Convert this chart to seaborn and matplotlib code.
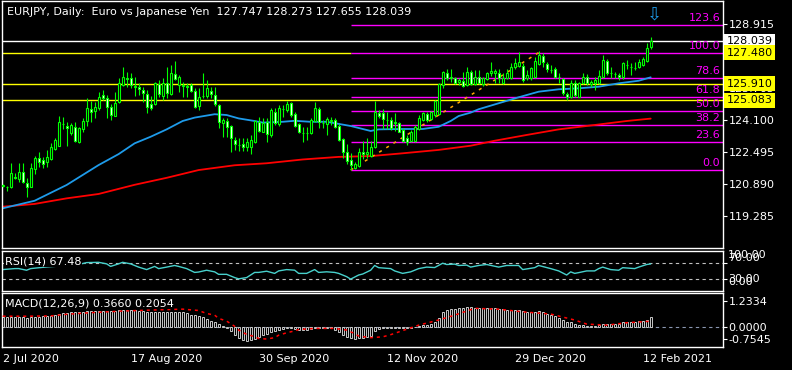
import numpy as np
import matplotlib
matplotlib.use("Agg")
import matplotlib.pyplot as plt
import matplotlib.transforms as mtrans
import seaborn as sns

# ---------------- data ----------------
title = "EURJPY, Daily:  Euro vs Japanese Yen  127.747 128.273 127.655 128.039"

opens = [120.80, 120.72, 120.76, 121.25, 121.14, 121.47, 120.92, 120.76, 121.64, 122.18,
         122.08, 122.01, 122.14, 122.65, 122.81, 123.90, 123.82, 123.43, 123.77, 123.01,
         123.65, 124.05, 124.63, 124.57, 124.69, 125.34, 125.22, 124.73, 124.32, 124.98,
         125.86, 126.22, 126.19, 125.77, 125.77, 125.60, 125.39, 124.89, 124.89, 125.89,
         125.32, 125.94, 125.39, 126.39, 125.86, 125.82, 125.82, 125.86, 125.55, 124.82,
         125.30, 125.32, 125.55, 125.35, 124.85, 123.93, 124.05, 123.80, 123.10, 122.85,
         122.88, 122.76, 122.76, 122.98, 123.98, 123.51, 124.02, 123.35, 124.52, 123.88,
         124.64, 124.60, 124.94, 124.38, 123.88, 123.43, 123.45, 123.43, 124.05, 124.65,
         123.93, 123.88, 124.05, 124.10, 123.82, 123.13, 122.48, 122.09, 121.71, 121.81,
         122.48, 122.38, 122.31, 122.76, 124.43, 124.43, 124.10, 124.10, 123.97, 123.93,
         123.60, 123.18, 123.05, 123.05, 123.65, 124.10, 124.38, 124.15, 124.35, 124.38,
         125.86, 126.44, 126.22, 126.19, 125.99, 126.06, 125.86, 126.52, 125.89, 126.27,
         125.89, 126.16, 126.44, 126.44, 126.44, 125.97, 126.19, 126.19, 126.74, 126.81,
         126.81, 126.19, 126.19, 126.24, 126.91, 127.31, 126.91, 126.62, 126.64, 126.27,
         126.14, 125.40, 125.27, 125.97, 125.27, 125.94, 126.27, 125.91, 125.94, 125.97,
         126.27, 127.08, 126.47, 126.42, 126.36, 126.24, 126.87, 126.75, 126.70, 126.77,
         126.86, 127.08, 127.747]
highs = [120.88, 120.79, 121.93, 121.42, 121.93, 121.93, 121.17, 121.93, 122.29, 122.48,
         122.26, 122.59, 122.93, 123.18, 124.30, 124.27, 123.98, 123.93, 124.02, 123.77,
         124.22, 125.19, 125.07, 125.02, 125.52, 125.60, 125.35, 124.89, 125.49, 126.19,
         126.77, 126.52, 126.44, 126.27, 125.94, 125.77, 125.60, 125.32, 126.02, 126.11,
         126.19, 126.77, 126.86, 127.06, 126.36, 125.99, 125.94, 125.94, 125.69, 125.69,
         126.44, 126.11, 125.77, 125.77, 124.89, 124.22, 124.18, 123.85, 123.26, 123.18,
         123.18, 123.18, 123.35, 124.10, 124.27, 124.18, 124.18, 124.72, 124.69, 124.85,
         124.85, 125.05, 124.99, 124.48, 123.93, 123.77, 123.77, 124.18, 124.99, 124.77,
         124.10, 124.27, 124.27, 124.22, 123.88, 123.18, 122.88, 122.43, 122.01, 122.71,
         123.05, 123.18, 123.05, 125.05, 124.60, 124.65, 124.48, 124.27, 124.43, 123.98,
         123.68, 123.35, 123.60, 123.85, 124.35, 124.52, 124.48, 124.55, 125.10, 125.94,
         126.56, 126.66, 126.66, 126.27, 126.22, 126.49, 126.74, 126.61, 126.61, 126.61,
         126.27, 126.49, 127.03, 126.64, 126.64, 126.47, 126.64, 126.98, 127.19, 127.53,
         126.98, 126.61, 126.77, 127.28, 127.58, 127.44, 127.03, 126.86, 126.74, 126.47,
         126.19, 125.52, 126.11, 126.11, 126.02, 126.44, 126.41, 126.11, 126.27, 126.61,
         127.36, 127.14, 126.77, 126.52, 126.47, 127.03, 127.11, 126.94, 127.03, 127.14,
         127.28, 127.95, 128.273]
lows = [120.74, 120.55, 120.71, 121.14, 121.01, 120.92, 120.25, 120.76, 121.37, 121.76,
        121.68, 121.76, 122.09, 122.59, 122.81, 123.65, 122.81, 123.35, 122.98, 122.93,
        123.51, 123.82, 123.98, 124.22, 124.60, 125.10, 124.18, 124.10, 124.32, 124.94,
        125.82, 125.77, 125.69, 125.32, 125.35, 124.99, 124.43, 124.60, 124.85, 125.27,
        125.10, 125.19, 125.35, 126.11, 125.52, 125.27, 125.27, 125.49, 124.69, 124.60,
        125.22, 125.22, 125.22, 124.82, 123.72, 123.26, 123.26, 122.48, 122.59, 122.54,
        122.54, 122.54, 122.38, 122.93, 123.51, 123.48, 122.98, 123.26, 123.85, 123.82,
        124.27, 124.52, 124.27, 123.77, 123.43, 122.98, 123.10, 123.38, 124.02, 123.72,
        123.72, 123.35, 123.85, 123.72, 123.05, 122.21, 121.88, 121.59, 121.64, 121.76,
        122.14, 122.21, 122.26, 122.71, 124.18, 123.65, 123.65, 123.60, 123.55, 123.48,
        122.98, 122.85, 122.98, 122.98, 123.60, 124.05, 123.98, 124.10, 124.27, 124.35,
        125.69, 126.11, 126.02, 125.89, 125.86, 125.77, 125.82, 125.86, 125.86, 125.89,
        125.82, 126.11, 126.30, 125.94, 125.94, 125.91, 126.14, 126.14, 126.64, 126.74,
        126.02, 126.11, 126.11, 126.19, 126.86, 126.74, 126.52, 126.44, 126.19, 125.94,
        125.35, 125.10, 125.19, 125.27, 125.27, 125.91, 125.86, 125.77, 125.60, 125.91,
        126.19, 126.36, 126.19, 126.19, 126.11, 126.14, 126.64, 126.36, 126.61, 126.69,
        126.81, 127.03, 127.655]
closes = [120.81, 120.75, 121.42, 121.17, 121.47, 120.97, 120.76, 121.68, 122.21, 122.01,
          121.91, 122.26, 122.76, 123.10, 123.98, 123.92, 123.68, 123.85, 123.05, 123.68,
          124.05, 124.69, 124.48, 124.73, 125.27, 125.19, 124.77, 124.35, 124.97, 125.94,
          126.27, 126.16, 125.86, 125.79, 125.64, 125.44, 124.77, 124.72, 125.94, 125.39,
          125.94, 125.44, 126.44, 126.16, 126.27, 125.84, 125.74, 125.55, 124.77, 125.27,
          125.32, 125.69, 125.39, 124.89, 123.98, 124.10, 123.77, 123.18, 122.88, 122.87,
          122.76, 122.98, 123.10, 124.05, 123.55, 123.93, 123.38, 124.60, 123.93, 124.69,
          124.65, 124.89, 124.35, 123.82, 123.48, 123.45, 123.43, 124.10, 124.72, 123.98,
          123.95, 124.15, 124.10, 123.77, 123.10, 122.48, 122.04, 121.84, 121.88, 122.48,
          122.40, 122.51, 122.76, 124.48, 124.30, 124.15, 124.10, 123.68, 123.99, 123.51,
          123.05, 123.01, 123.48, 123.77, 124.18, 124.43, 124.10, 124.48, 125.05, 125.89,
          126.49, 126.19, 126.22, 125.94, 126.11, 125.82, 126.49, 125.89, 126.27, 125.94,
          126.19, 126.44, 126.57, 126.57, 126.19, 126.19, 126.47, 126.74, 126.94, 127.03,
          126.11, 126.36, 126.69, 127.08, 127.36, 127.03, 126.64, 126.61, 126.27, 126.26,
          125.44, 125.24, 125.97, 125.35, 125.94, 126.27, 125.94, 126.02, 126.11, 126.31,
          127.11, 126.47, 126.46, 126.41, 126.24, 126.98, 126.86, 126.74, 126.69, 127.01,
          127.14, 127.69, 128.039]

# moving averages (read at sample bars)
ma_fast_idx = [0, 8, 16, 24, 29, 33, 37, 41, 45, 48, 53, 56, 59, 63, 65, 70, 73, 77, 81, 87,
               92, 94, 100, 105, 109, 112, 114, 117, 119, 124, 129, 134, 139, 144, 149, 154, 159, 162]
ma_fast_val = [119.67, 120.05, 120.84, 121.84, 122.39, 122.93, 123.26, 123.63, 124.05, 124.22,
               124.39, 124.35, 124.18, 124.05, 123.97, 124.01, 124.06, 124.01, 124.01, 123.80,
               123.55, 123.63, 123.65, 123.65, 123.76, 124.05, 124.30, 124.47, 124.64, 124.94,
               125.24, 125.52, 125.64, 125.69, 125.77, 125.94, 126.07, 126.24]
ma_slow_idx = [0, 8, 16, 24, 33, 41, 49, 58, 66, 75, 84, 92, 100, 109, 117, 123, 131, 139, 148, 156, 162]
ma_slow_val = [119.75, 119.89, 120.17, 120.39, 120.85, 121.20, 121.59, 121.83, 121.93, 122.12,
               122.25, 122.29, 122.43, 122.60, 122.81, 123.06, 123.35, 123.63, 123.85, 124.05, 124.17]

# Fibonacci retracement
fib_low, fib_high = 121.59, 127.48
fib_low_bar, fib_high_bar = 87, 134
fib_levels = [0.0, 23.6, 38.2, 50.0, 61.8, 78.6, 100.0, 123.6]
yellow_levels = [125.910, 125.083]
resist_level = 127.480
bid_price = 128.039
price_ticks = [128.915, 127.310, 125.705, 124.100, 122.495, 120.890, 119.285]

# RSI
rsi_idx = [0, 3, 4, 6, 7, 9, 11, 14, 17, 19, 21, 24, 26, 27, 29, 30, 32, 34, 36, 38, 39, 41, 43, 44, 46,
           48, 49, 51, 53, 54, 56, 58, 59, 61, 63, 64, 66, 68, 69, 71, 73, 74, 76, 78, 79, 81, 83, 84,
           86, 87, 89, 90, 92, 93, 94, 97, 98, 100, 102, 104, 106, 108, 110, 111, 113, 114, 116, 117,
           119, 121, 124, 126, 129, 130, 133, 134, 137, 139, 141, 142, 143, 144, 146, 148, 149, 150,
           152, 154, 155, 158, 159, 161, 162]
rsi_val = [53.5, 55.9, 56.0, 51.9, 55.9, 58, 60, 62, 64, 66, 70.7, 71.4, 67.6, 61.3, 67.6, 71.4, 67.6,
           59.6, 53.5, 61.3, 55.9, 59.6, 63.6, 61.3, 55.9, 46.5, 47.5, 51.9, 47.9, 41.8, 41.8, 33.8,
           30.7, 33.8, 46.5, 46.5, 49.5, 44.1, 50.2, 53.5, 52.0, 44.1, 44.1, 53.5, 46.5, 48.0, 46.5,
           44.1, 36.1, 30.0, 40.1, 42.5, 51.9, 63.6, 58.2, 55.9, 50.2, 44.1, 47.9, 55.9, 59.6, 58.5,
           69.1, 66.0, 67.0, 63.6, 64.5, 59.6, 63.6, 66.0, 59.6, 63.6, 63.6, 53.5, 58.2, 63.6, 55.9,
           50.2, 40.1, 47.9, 44.1, 46.0, 50.2, 50.2, 55.9, 59.6, 53.5, 51.9, 58.2, 55.9, 59.6, 66.0, 67.48]
rsi_levels = [70, 30]

# MACD
macd_hist = [0.37, 0.36, 0.36, 0.36, 0.36, 0.35, 0.34, 0.35, 0.36, 0.37,
             0.38, 0.39, 0.41, 0.44, 0.48, 0.50, 0.52, 0.54, 0.54, 0.54,
             0.56, 0.57, 0.57, 0.58, 0.59, 0.60, 0.59, 0.57, 0.58, 0.61,
             0.62, 0.62, 0.61, 0.61, 0.59, 0.57, 0.54, 0.53, 0.54, 0.55,
             0.54, 0.55, 0.56, 0.55, 0.54, 0.53, 0.50, 0.45, 0.43, 0.39,
             0.35, 0.29, 0.23, 0.17, 0.09, 0.04, -0.04, -0.16, -0.30, -0.40,
             -0.48, -0.52, -0.50, -0.45, -0.38, -0.31, -0.27, -0.19, -0.16, -0.12,
             -0.08, -0.05, -0.06, -0.09, -0.11, -0.12, -0.12, -0.09, -0.05, -0.05,
             -0.05, -0.05, -0.06, -0.12, -0.19, -0.29, -0.37, -0.43, -0.45, -0.43,
             -0.40, -0.37, -0.33, -0.16, -0.09, -0.05, -0.03, -0.04, -0.03, -0.04,
             -0.05, -0.06, -0.05, -0.02, 0.02, 0.06, 0.08, 0.11, 0.17, 0.33,
             0.53, 0.62, 0.65, 0.67, 0.70, 0.71, 0.74, 0.73, 0.71, 0.70,
             0.68, 0.68, 0.68, 0.68, 0.67, 0.64, 0.62, 0.61, 0.62, 0.62,
             0.57, 0.54, 0.54, 0.56, 0.57, 0.54, 0.48, 0.44, 0.40, 0.34,
             0.25, 0.19, 0.17, 0.09, 0.06, 0.05, 0.02, 0.02, 0.03, 0.05,
             0.11, 0.10, 0.11, 0.11, 0.10, 0.16, 0.17, 0.17, 0.18, 0.20,
             0.23, 0.26, 0.366]
sig_idx = [0, 6, 12, 16, 22, 30, 38, 45, 49, 51, 53, 54, 56, 58, 59, 61, 63, 64, 66, 68, 69, 71, 73,
           74, 78, 83, 86, 88, 89, 92, 95, 97, 99, 101, 104, 109, 113, 118, 124, 130, 137, 143, 146,
           151, 156, 162]
sig_val = [0.39, 0.39, 0.40, 0.46, 0.52, 0.58, 0.62, 0.65, 0.60, 0.49, 0.43, 0.31, 0.21, 0.02, -0.12,
           -0.28, -0.36, -0.43, -0.45, -0.40, -0.31, -0.22, -0.15, -0.10, -0.06, -0.06, -0.12, -0.25,
           -0.34, -0.40, -0.37, -0.29, -0.19, -0.09, 0.06, 0.25, 0.43, 0.68, 0.65, 0.55, 0.47, 0.25,
           0.10, 0.06, 0.15, 0.2054]
macd_min, macd_max = -0.7545, 1.2334

date_ticks = [0, 32, 64, 96, 128, 160]
date_labels = ["2 Jul 2020", "17 Aug 2020", "30 Sep 2020", "12 Nov 2020", "29 Dec 2020", "12 Feb 2021"]

# ---------------- style ----------------
sns.set_theme(style="dark")
plt.rcParams['font.family'] = ['DejaVu Sans']
plt.rcParams['font.size'] = 8

W, H = 792, 370
fig = plt.figure(figsize=(W / 100, H / 100), dpi=100, facecolor='black')


def rect(x0, y0, x1, y1):
    return [x0 / W, 1 - y1 / H, (x1 - x0) / W, (y1 - y0) / H]


ax = fig.add_axes(rect(2, 1, 722.7, 248.3))
ax_rsi = fig.add_axes(rect(2, 250.7, 722.7, 291.3), sharex=ax)
ax_macd = fig.add_axes(rect(2, 293.3, 722.7, 347.3), sharex=ax)

GREEN = '#00FF00'
MAG = '#FF00FF'
YEL = '#FFFF00'

for a in (ax, ax_rsi, ax_macd):
    a.set_facecolor('black')
    a.grid(False)
    for s in a.spines.values():
        s.set_color('white')
        s.set_linewidth(1.0)
    a.yaxis.tick_right()
    a.tick_params(colors='white', labelcolor='white', direction='out', length=3, width=0.8,
                  labelsize=8, pad=1.2)
    a.set_xlabel('')
    a.set_ylabel('')

ax.set_xlim(-0.15, 180.0)
ax.set_ylim(117.665, 130.069)

# ---------------- main panel ----------------
n = len(closes)
idx = np.arange(n)
o = np.array(opens); h = np.array(highs); l = np.array(lows); c = np.array(closes)

sns.lineplot(x=ma_slow_idx, y=ma_slow_val, ax=ax, color='#FF0000', lw=1.3, zorder=2)
sns.lineplot(x=ma_fast_idx, y=ma_fast_val, ax=ax, color='#1E9BEA', lw=1.3, zorder=2)

ax.vlines(idx, l, h, color=GREEN, lw=0.8, zorder=3)
bull = c >= o
body = np.where(np.abs(c - o) < 0.015, np.where(bull, 0.015, -0.015), c - o)
ax.bar(idx, body, bottom=o, width=0.55, color=np.where(bull, 'black', 'white'),
       edgecolor=GREEN, linewidth=0.8, zorder=4)

# horizontal lines
x_right = 180.0
ax.axhline(bid_price, color='white', lw=1, zorder=1.5)
for lv in yellow_levels:
    ax.axhline(lv, color=YEL, lw=1, zorder=1.5)
ax.hlines(resist_level, -0.15, fib_low_bar, color=YEL, lw=1, zorder=1.5)

rng = fib_high - fib_low
for lv in fib_levels:
    p = fib_low + rng * lv / 100.0
    ax.hlines(p, fib_low_bar, x_right, color=MAG, lw=1, zorder=1.6)
    ax.annotate(f"{lv:.1f}", xy=(179.4, p), xytext=(0, 1.5), textcoords='offset points',
                ha='right', va='bottom', color=MAG, fontsize=8, zorder=6)
ax.plot([fib_low_bar, fib_high_bar], [fib_low, fib_high], color='#FFA500', lw=1.1,
        dashes=(2, 3.5), zorder=2.5)

ax.set_yticks(price_ticks)
ax.set_yticklabels([f"{v:.3f}" for v in price_ticks])
ax.tick_params(axis='x', bottom=False, labelbottom=False)
ax_rsi.tick_params(axis='x', bottom=False, labelbottom=False)

bt = mtrans.blended_transform_factory(ax.transAxes, ax.transData)
for val, fc in [(bid_price, 'white'), (resist_level, YEL), (yellow_levels[0], YEL), (yellow_levels[1], YEL)]:
    ax.text(1.0058, val, f"{val:.3f}", transform=bt, ha='left', va='center', color='black',
            fontsize=8, zorder=10, clip_on=False,
            bbox=dict(boxstyle='square,pad=0.22', fc=fc, ec='none'))

ax.text(0.0069, 0.955, title, transform=ax.transAxes, ha='left', va='center', color='white',
        fontsize=8, zorder=7)
ax.text(163.0, 129.37, '\u21e9', ha='center', va='center', color='#1E9BEA', fontsize=13, zorder=7)

# ---------------- RSI ----------------
ax_rsi.set_ylim(0, 100)
for lv in rsi_levels:
    ax_rsi.axhline(lv, color='#C0C0C0', lw=0.8, dashes=(3, 3), zorder=1)
sns.lineplot(x=rsi_idx, y=rsi_val, ax=ax_rsi, color='#48D1CC', lw=1.0, zorder=2)
ax_rsi.set_yticks(rsi_levels)
ax_rsi.set_yticklabels(['', ''])
for txt, fy in [('100.00', 0.882), ('70.00', 0.82), ('30.00', 0.303), ('0.00', 0.217)]:
    ax_rsi.text(1.0075, fy, txt, transform=ax_rsi.transAxes, ha='left', va='center',
                color='white', fontsize=8, clip_on=False)
ax_rsi.text(0.004, 0.746, f"RSI(14) {rsi_val[-1]:.2f}", transform=ax_rsi.transAxes, ha='left',
            va='center', color='white', fontsize=8, zorder=8,
            bbox=dict(boxstyle='square,pad=0.05', fc='black', ec='none'))

# ---------------- MACD ----------------
ax_macd.set_ylim(macd_min, macd_max)
ax_macd.axhline(0, color='#8A96B0', lw=0.8, dashes=(3, 3), zorder=1)
ax_macd.bar(idx, macd_hist, width=0.5, color='black', edgecolor='#C8C8C8', linewidth=0.7, zorder=2)
sns.lineplot(x=sig_idx, y=sig_val, ax=ax_macd, color='#FF0000', lw=1.1, zorder=3,
             linestyle=(0, (2, 2.5)))
span = macd_max - macd_min
mt_fr = [0.863, 0.381, 0.148]
ax_macd.set_yticks([macd_min + f * span for f in mt_fr])
ax_macd.set_yticklabels([f"{macd_max:.4f}", "0.0000", f"{macd_min:.4f}"])
ax_macd.text(0.004, 0.82, f"MACD(12,26,9) {macd_hist[-1]:.4f} {sig_val[-1]:.4f}",
             transform=ax_macd.transAxes, ha='left', va='center', color='white', fontsize=8,
             zorder=8, bbox=dict(boxstyle='square,pad=0.05', fc='black', ec='none'))

ax_macd.set_xticks(date_ticks)
ax_macd.set_xticklabels(date_labels, ha='left')
ax_macd.tick_params(axis='x', length=3, pad=1.5, labelsize=8)
ax_macd.set_xlim(-0.15, 180.0)

fig.savefig('out.png', dpi=100, facecolor='black')
